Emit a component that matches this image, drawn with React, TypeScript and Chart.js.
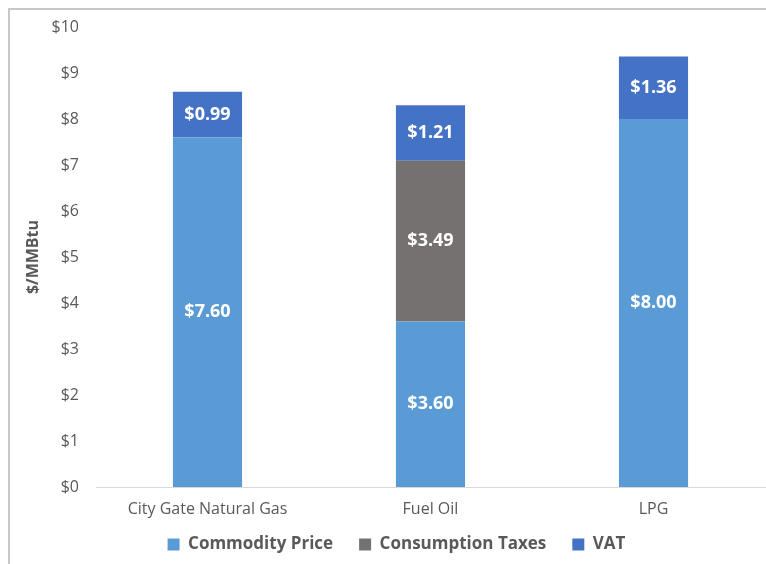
import React, { useEffect, useRef } from "react";
import { Chart, registerables } from "chart.js";

Chart.register(...registerables);

const categories = ["City Gate Natural Gas", "Fuel Oil", "LPG"];
const commodityPrice = [7.6, 3.6, 8.0];
const consumptionTaxes = [0, 3.49, 0];
const vat = [0.99, 1.21, 1.36];
const seriesNames = ["Commodity Price", "Consumption Taxes", "VAT"];
const yTicks = [0, 1, 2, 3, 4, 5, 6, 7, 8, 9, 10];

const FONT = "'Open Sans', 'Noto Sans', sans-serif";
const GREY = "#595959";

const labelPlugin = {
  id: "segLabels",
  afterDatasetsDraw(chart: any) {
    const ctx = chart.ctx;
    ctx.save();
    ctx.fillStyle = "#ffffff";
    ctx.font = `bold 18px ${FONT}`;
    ctx.textAlign = "center";
    ctx.textBaseline = "middle";
    chart.data.datasets.forEach((ds: any, di: number) => {
      const meta = chart.getDatasetMeta(di);
      meta.data.forEach((bar: any, i: number) => {
        const v = ds.data[i];
        if (!v) return;
        const props = bar.getProps(["x", "y", "base"], true);
        const cy = (props.y + props.base) / 2;
        ctx.fillText("$" + v.toFixed(2), props.x, cy);
      });
    });
    ctx.restore();
  },
};

// Legend keeps wide horizontal gaps but takes less vertical room.
const LEGEND_H = 39;
const LEGEND_SHIFT = 13;
const LEGEND_DX = 14;
const legendFix = {
  id: "legendFix",
  beforeLayout(chart: any) {
    const lg = chart.legend;
    if (lg && !lg.__patched) {
      const f = lg.fit;
      lg.fit = function (this: any) {
        f.call(this);
        this.height = LEGEND_H;
      };
      lg.__patched = true;
    }
  },
  afterLayout(chart: any) {
    const lg = chart.legend;
    if (lg) {
      lg.top -= LEGEND_SHIFT;
      lg.left += LEGEND_DX;
      lg.right += LEGEND_DX;
    }
  },
};

export default function App() {
  const ref = useRef<HTMLCanvasElement | null>(null);
  useEffect(() => {
    document.body.style.margin = "0";
    const canvas = ref.current!;
    const chart = new Chart(canvas, {
      type: "bar",
      data: {
        labels: categories,
        datasets: [
          { label: seriesNames[0], data: commodityPrice, backgroundColor: "#5B9BD5" },
          { label: seriesNames[1], data: consumptionTaxes, backgroundColor: "#767171" },
          { label: seriesNames[2], data: vat, backgroundColor: "#4472C4" },
        ],
      },
      options: {
        animation: false,
        responsive: false,
        maintainAspectRatio: false,
        layout: { padding: { top: 27, right: 1, bottom: 2, left: 0 } },
        datasets: { bar: { barPercentage: 0.31, categoryPercentage: 1 } },
        plugins: {
          tooltip: { enabled: false },
          legend: {
            position: "bottom",
            labels: {
              boxWidth: 12,
              boxHeight: 12,
              padding: 26,
              color: GREY,
              font: { family: FONT, size: 17, weight: "bold" },
            },
          },
        },
        scales: {
          x: {
            stacked: true,
            grid: { display: false },
            border: { display: true, color: "#D9D9D9", width: 1 },
            ticks: { color: GREY, padding: 5, font: { family: FONT, size: 16 } },
            afterFit: (s: any) => {
              s.height = 36;
            },
          },
          y: {
            stacked: true,
            min: 0,
            max: 10,
            afterBuildTicks: (s: any) => {
              s.ticks = yTicks.map((v) => ({ value: v }));
            },
            grid: { display: false },
            border: { display: false },
            ticks: {
              color: GREY,
              padding: 9,
              font: { family: FONT, size: 16 },
              callback: (v: any) => "$" + v,
            },
            title: {
              display: true,
              text: "$/MMBtu",
              color: GREY,
              padding: { top: 24, bottom: 0 },
              font: { family: FONT, size: 16, weight: "bold" },
            },
            afterFit: (s: any) => {
              s.width = 96;
            },
          },
        },
      },
      plugins: [labelPlugin, legendFix],
    } as any);
    return () => chart.destroy();
  }, []);
  return (
    <div style={{ position: "relative", width: 766, height: 564, overflow: "hidden", background: "#fff" }}>
      <div
        style={{
          position: "absolute",
          left: 8,
          top: 8,
          width: 800,
          height: 600,
          borderTop: "2px solid #C8C8C8",
          borderLeft: "2px solid #C8C8C8",
          boxSizing: "border-box",
        }}
      />
      <canvas ref={ref} width={766} height={564} style={{ position: "absolute", left: 0, top: 0 }} />
    </div>
  );
}
